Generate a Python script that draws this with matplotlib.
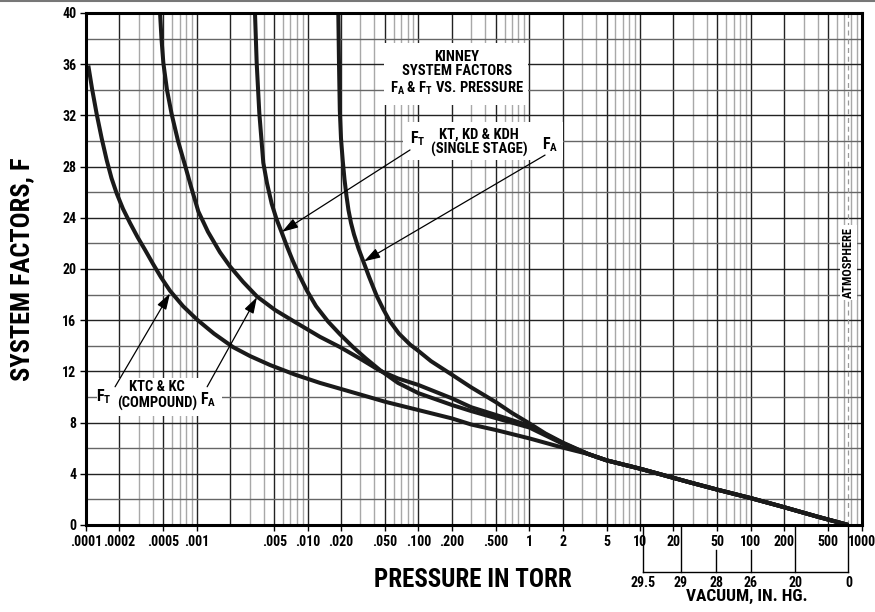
import numpy as np
import matplotlib
matplotlib.use("Agg")
import matplotlib.pyplot as plt
from matplotlib import font_manager
from matplotlib.patches import Rectangle
from matplotlib.lines import Line2D
from matplotlib.transforms import blended_transform_factory

# fuente condensada (parecida a Helvetica Condensed Bold)
fam = "DejaVu Sans"
for f in ["Roboto Condensed", "Archivo Narrow", "Liberation Sans Narrow", "Liberation Sans"]:
    try:
        font_manager.findfont(f, fallback_to_default=False)
        fam = f
        break
    except Exception:
        pass
plt.rcParams["font.family"] = [fam, "DejaVu Sans"]
plt.rcParams["font.weight"] = "bold"
plt.rcParams["mathtext.fontset"] = "custom"
plt.rcParams["mathtext.rm"] = fam + ":bold"
plt.rcParams["mathtext.it"] = fam + ":bold"
plt.rcParams["mathtext.bf"] = fam + ":bold"

# ---- datos (presion en torr, factor F) ----
# KTC & KC (compuesta) F_T
a_p = [1.049e-4, 1.133e-4, 1.249e-4, 1.386e-4, 1.538e-4, 1.699e-4, 1.893e-4, 2.158e-4,
       2.495e-4, 2.916e-4, 3.408e-4, 4.025e-4, 4.753e-4, 5.731e-4, 7.507e-4, 1.004e-3,
       1.430e-3, 2.122e-3, 3.021e-3, 4.578e-3, 7.694e-3, 0.01294, 0.01961, 0.02972,
       0.05, 0.1, 0.2, 0.3, 0.5, 1.0, 2.0]
a_f = [35.9, 34.1, 32.1, 30.2, 28.5, 27.1, 25.9, 24.7,
       23.6, 22.5, 21.5, 20.4, 19.35, 18.3, 17.1, 16.05,
       14.95, 13.9, 13.2, 12.5, 11.75, 11.1, 10.65, 10.2,
       9.63, 8.98, 8.33, 7.85, 7.42, 6.77, 6.05]
# KTC & KC (compuesta) F_A
b_p = [4.66e-4, 4.80e-4, 4.99e-4, 5.38e-4, 5.93e-4, 6.77e-4, 7.83e-4, 8.96e-4,
       1.032e-3, 1.262e-3, 1.620e-3, 1.994e-3, 2.612e-3, 3.494e-3, 5.08e-3, 7.38e-3,
       0.01294, 0.01961, 0.02972, 0.04502, 0.06545, 0.1, 0.2, 0.3, 0.5, 1.0, 2.0]
b_f = [40.0, 38.0, 36.1, 34.0, 32.1, 30.0, 28.1, 26.3,
       24.5, 22.9, 21.3, 20.2, 19.0, 17.85, 16.8, 15.95,
       14.7, 13.9, 13.0, 12.05, 11.45, 10.94, 9.9, 9.2, 8.6, 7.76, 6.4]
# KT, KD & KDH (una etapa) F_T
c_p = [3.351e-3, 3.471e-3, 3.665e-3, 3.983e-3, 4.301e-3, 4.742e-3, 5.241e-3, 5.840e-3,
       6.520e-3, 7.307e-3, 8.365e-3, 9.876e-3, 0.01191, 0.01528, 0.01961, 0.02569,
       0.03366, 0.04502, 0.06545, 0.1, 0.2, 0.3, 0.5, 1.0, 2.0]
c_f = [40.0, 36.1, 32.2, 28.3, 26.7, 25.1, 23.9, 22.85,
       21.75, 20.7, 19.55, 18.3, 17.1, 15.9, 14.9, 13.9,
       13.0, 12.1, 11.1, 10.3, 9.38, 8.9, 8.35, 7.62, 6.35]
# KT, KD & KDH (una etapa) F_A
d_p = [0.01893, 0.01921, 0.01953, 0.02002, 0.02074, 0.02153, 0.02244, 0.02339,
       0.02464, 0.02623, 0.02880, 0.03182, 0.03583, 0.04204, 0.04792, 0.05541,
       0.06683, 0.08401, 0.1, 0.13, 0.2, 0.3, 0.5, 0.7, 1.0, 1.4, 2.0]
d_f = [40.0, 36.0, 32.4, 30.2, 28.5, 27.0, 25.7, 24.6,
       23.6, 22.7, 21.6, 20.6, 19.4, 17.9, 16.9, 15.9,
       14.95, 14.1, 13.6, 12.8, 11.75, 10.75, 9.6, 8.75, 7.95, 7.15, 6.45]
# tramo comun hasta la atmosfera
tail_p = [3.4, 5, 10, 29, 51.5, 100, 180, 400, 760]
tail_f = [5.55, 5.05, 4.4, 3.3, 2.73, 2.1, 1.5, 0.65, 0.0]

x_ticks = [1e-4, 2e-4, 5e-4, 1e-3, 5e-3, 1e-2, 2e-2, 5e-2, 0.1, 0.2, 0.5,
           1, 2, 5, 10, 20, 50, 100, 200, 500, 1000]
x_labels = [".0001", ".0002", ".0005", ".001", ".005", ".010", ".020", ".050",
            ".100", ".200", ".500", "1", "2", "5", "10", "20", "50", "100",
            "200", "500", "1000"]
y_ticks = list(range(0, 41, 4))

vac_vals = [29.5, 29, 28, 26, 20, 0]
vac_labels = ["29.5", "29", "28", "26", "20", "0"]
vac_full = [True, True, False, False, True, True]
ATM = 760.0

fig = plt.figure(figsize=(8.75, 6.12), dpi=100)
ax = fig.add_axes([86 / 875, 1 - 525 / 612, 775.6 / 875, 512 / 612])
ax.set_xscale("log")
ax.set_xlim(1e-4, 1000)
ax.set_ylim(0, 40)

# rejilla
for dec in range(-4, 3):
    for m in range(1, 10):
        v = m * 10.0 ** dec
        if v <= 1e-4 or v >= 1000:
            continue
        if m in (1, 2, 5):
            ax.axvline(v, color="#222222", lw=1.0, zorder=1)
        else:
            ax.axvline(v, color="#a8a8a8", lw=1.0, zorder=1)
for yv in range(2, 40, 2):
    c = "#222222" if yv % 4 == 0 else "#666666"
    ax.axhline(yv, color=c, lw=1.0, zorder=1)
ax.axvline(ATM, color="#999999", lw=0.9, ls=(0, (4, 3)), zorder=1)

# recuadros blancos para los textos
for (x0, x1, y0, y1) in [(0.384, 0.570, 0.820, 0.941),
                         (0.409, 0.615, 0.713, 0.787),
                         (0.0142, 0.1753, 0.213, 0.287)]:
    ax.add_patch(Rectangle((x0, y0), x1 - x0, y1 - y0, transform=ax.transAxes,
                           facecolor="white", edgecolor="none", zorder=2))

# curvas
for p, f in [(a_p, a_f), (b_p, b_f), (c_p, c_f), (d_p, d_f)]:
    ax.plot(p + tail_p, f + tail_f, color="#1a1a1a", lw=2.9, zorder=3,
            solid_joinstyle="round", solid_capstyle="butt")

# ejes
ax.set_xticks(x_ticks)
ax.set_xticklabels(x_labels)
ax.xaxis.set_minor_locator(matplotlib.ticker.NullLocator())
ax.set_yticks(y_ticks)
ax.tick_params(axis="both", direction="out", length=4, width=1.0, labelsize=10, pad=3)
for s in ax.spines.values():
    s.set_linewidth(2.2)
    s.set_zorder(5)

# eje secundario de vacio
tr = blended_transform_factory(ax.transData, ax.transAxes)
vac_p = [(29.92 - v) * 25.4 for v in vac_vals]
y_box = -47 / 512
for xp, lab, full in zip(vac_p, vac_labels, vac_full):
    top = 0 if full else -25 / 512
    ax.plot([xp, xp], [top, y_box], transform=tr, color="black", lw=1.0, clip_on=False)
    ax.text(xp, -58 / 512, lab, transform=tr, ha="center", va="center", fontsize=10)
ax.plot([vac_p[0], vac_p[-1]], [y_box, y_box], transform=tr, color="black", lw=1.0,
        clip_on=False)
ax.text(ATM * 10 ** (-102 / 110.8), -71 / 512, "VACUUM, IN. HG.", transform=tr,
        ha="center", va="center", fontsize=12.5)

ax.text((473 - 86) / 775.6, -55 / 512, "PRESSURE IN TORR", transform=ax.transAxes,
        ha="center", va="center", fontsize=18)
ax.text(-64 / 775.6, 0.50, "SYSTEM FACTORS, F", transform=ax.transAxes, rotation=90,
        ha="center", va="center", fontsize=19)

# leyenda / titulo interno
kw = dict(transform=ax.transAxes, ha="center", va="center", fontsize=10.5, zorder=4)
kf = dict(kw, fontsize=11.5)
ax.text(0.478, 0.914, "KINNEY", **kw)
ax.text(0.478, 0.887, "SYSTEM FACTORS", **kw)
ax.text(0.478, 0.852, r"$\mathrm{F_A}$ & $\mathrm{F_T}$ VS. PRESSURE", **kw)

ax.text(0.507, 0.762, "KT, KD & KDH", **kw)
ax.text(0.507, 0.734, "(SINGLE STAGE)", **kw)
ax.text(0.428, 0.754, r"$\mathrm{F_T}$", **kf)
ax.text(0.598, 0.742, r"$\mathrm{F_A}$", **kf)

ax.text(0.0915, 0.270, "KTC & KC", **kw)
ax.text(0.0915, 0.238, "(COMPOUND)", **kw)
ax.text(0.0235, 0.250, r"$\mathrm{F_T}$", **kf)
ax.text(0.158, 0.244, r"$\mathrm{F_A}$", **kf)

ax.text(ATM, 20.5, "ATMOSPHERE", rotation=90, ha="center", va="center", fontsize=8.8,
        zorder=4, bbox=dict(facecolor="white", edgecolor="none", pad=1.5))

# flechas
arr = dict(arrowstyle="-|>,head_length=0.7,head_width=0.22", color="black", lw=0.9,
           mutation_scale=14, shrinkA=0, shrinkB=0)
for (x0, y0), (x1, y1) in [((0.0840, 29.3), (5.87e-3, 22.9)),
                           ((1.39, 28.9), (0.0323, 20.6)),
                           ((1.83e-4, 10.8), (5.73e-4, 18.1)),
                           ((1.24e-3, 10.8), (3.49e-3, 17.8))]:
    ax.annotate("", xy=(x1, y1), xytext=(x0, y0), arrowprops=arr, zorder=4)

fig.add_artist(Line2D([0, 1], [0.998, 0.998], color="#777777", lw=1.5))

fig.savefig("out.png", dpi=100)
